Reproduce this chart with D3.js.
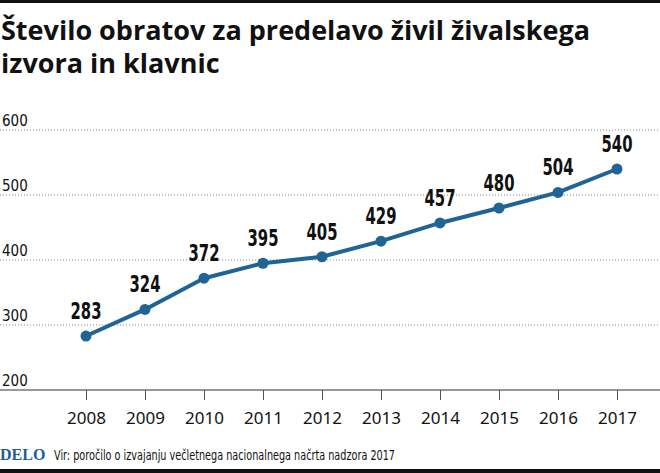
<!DOCTYPE html>
<html><head><meta charset="utf-8">
<script src="https://cdn.jsdelivr.net/npm/d3@7"></script>
<style>body{margin:0;background:#fff}svg{display:block}
.cond{font-family:'DejaVu Sans Condensed','DejaVu Sans',sans-serif;font-stretch:condensed}</style>
</head><body>
<script>
const years = ["2008","2009","2010","2011","2012","2013","2014","2015","2016","2017"];
const values = [283,324,372,395,405,429,457,480,504,540];
const yTicks = [200,300,400,500,600];
const titleLines = ["Število obratov za predelavo živil živalskega","izvora in klavnic"];
const source = "Vir: poročilo o izvajanju večletnega nacionalnega načrta nadzora 2017";

const W=660,H=473;
const svg=d3.select("body").append("svg").attr("width",W).attr("height",H);
svg.append("rect").attr("x",0).attr("y",0).attr("width",W).attr("height",3).attr("fill","#111");
svg.append("rect").attr("x",0).attr("y",469).attr("width",W).attr("height",4).attr("fill","#111");

const tf="'Open Sans', sans-serif";
svg.append("g").selectAll("text").data(titleLines).join("text")
  .attr("x",1).attr("y",(d,i)=>40+i*33).attr("font-family",tf).attr("font-weight","bold")
  .attr("font-size",27).attr("fill","#111").text(d=>d);

const x=d3.scalePoint().domain(years).range([86,617]);
const y=d3.scaleLinear().domain([200,600]).range([390,130]);

const grid=svg.append("g");
grid.selectAll("line").data(yTicks.filter(t=>t>200)).join("line")
  .attr("x1",0).attr("x2",W).attr("y1",d=>y(d)).attr("y2",d=>y(d))
  .attr("stroke","#888").attr("stroke-width",1).attr("stroke-dasharray","1,2");
grid.selectAll("text").data(yTicks).join("text").attr("class","cond")
  .attr("x",2).attr("y",d=>y(d)-4)
  .attr("font-size",15).attr("fill","#111").text(d=>d);

const xAxis=svg.append("g").attr("transform","translate(0,390)")
  .call(d3.axisBottom(x).tickSize(10).tickPadding(12));
xAxis.select(".domain").attr("d",`M0,0H${W}`).attr("stroke","#333").attr("stroke-width",1.2);
xAxis.selectAll(".tick line").attr("stroke","#555");
xAxis.selectAll(".tick text").attr("font-family","'Noto Sans', sans-serif").attr("font-size",17).attr("fill","#111");

const color="#1f6494";
svg.append("path").datum(values).attr("fill","none").attr("stroke",color).attr("stroke-width",4)
  .attr("stroke-linejoin","round")
  .attr("d",d3.line().x((d,i)=>x(years[i])).y(d=>y(d)));
svg.append("g").selectAll("circle").data(values).join("circle")
  .attr("cx",(d,i)=>x(years[i])).attr("cy",d=>y(d)).attr("r",5.5).attr("fill",color);
svg.append("g").selectAll("text").data(values).join("text").attr("class","cond")
  .attr("x",(d,i)=>x(years[i])).attr("y",d=>y(d)-17).attr("text-anchor","middle")
  .attr("font-weight","bold").attr("textLength",31).attr("lengthAdjust","spacingAndGlyphs")
  .attr("font-size",23).attr("fill","#111").text(d=>d);

svg.append("text").attr("x",0).attr("y",460).attr("font-family","'Liberation Serif', serif").attr("font-weight","bold")
  .attr("font-size",16).attr("fill","#1f5e8f").text("DELO");
svg.append("text").attr("class","cond").attr("x",54).attr("y",460)
  .attr("textLength",341).attr("lengthAdjust","spacingAndGlyphs")
  .attr("font-size",14).attr("fill","#111").text(source);
</script>
</body></html>
